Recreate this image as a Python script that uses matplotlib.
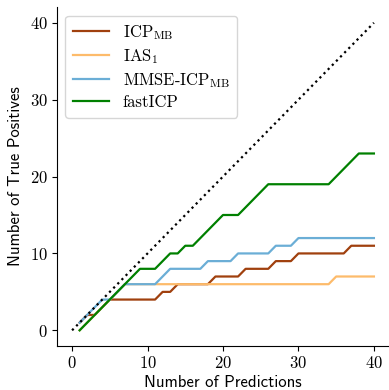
import matplotlib
matplotlib.use("Agg")
import matplotlib.pyplot as plt
import numpy as np

plt.rcParams['mathtext.fontset'] = 'cm'
plt.rcParams['axes.formatter.use_mathtext'] = True

x = list(range(1, 41))
icp_mb = [1, 2, 2, 3, 4, 4, 4, 4, 4, 4, 4, 5, 5, 6, 6, 6, 6, 6, 7, 7,
          7, 7, 8, 8, 8, 8, 9, 9, 9, 10, 10, 10, 10, 10, 10, 10, 11, 11, 11, 11]
ias1 = [0, 1, 2, 3, 4, 5, 6, 6, 6, 6, 6, 6, 6, 6, 6, 6, 6, 6, 6, 6,
        6, 6, 6, 6, 6, 6, 6, 6, 6, 6, 6, 6, 6, 6, 7, 7, 7, 7, 7, 7]
mmse_icp_mb = [1, 2, 3, 4, 4, 5, 6, 6, 6, 6, 6, 7, 8, 8, 8, 8, 8, 9, 9, 9,
               9, 10, 10, 10, 10, 10, 11, 11, 11, 12, 12, 12, 12, 12, 12, 12, 12, 12, 12, 12]
fasticp = [0, 1, 2, 3, 4, 5, 6, 7, 8, 8, 8, 9, 10, 10, 11, 11, 12, 13, 14, 15,
           15, 15, 16, 17, 18, 19, 19, 19, 19, 19, 19, 19, 19, 19, 20, 21, 22, 23, 23, 23]
diag = [0, 40]

labels = [r"ICP$_{\mathrm{MB}}$", r"IAS$_{1}$", r"MMSE-ICP$_{\mathrm{MB}}$", r"fastICP"]
colors = ['#a0400e', '#fdbb6b', '#6baed6', '#008000']

fig = plt.figure(figsize=(3.89, 3.90), dpi=100)
ax = fig.add_axes([0.1465, 0.1136, 0.8535, 0.8674])

for ys, lab, c in zip([icp_mb, ias1, mmse_icp_mb, fasticp], labels, colors):
    ax.plot(x, ys, color=c, lw=1.6, label=lab)
ax.plot(diag, diag, color='black', ls=':', lw=1.6)

ax.set_xlim(-2, 42)
ax.set_ylim(-2, 42)
ax.set_xticks([0, 10, 20, 30, 40])
ax.set_yticks([0, 10, 20, 30, 40])
for lbl in ax.get_xticklabels() + ax.get_yticklabels():
    lbl.set_fontfamily('cmr10')
    lbl.set_fontsize(12)
ax.tick_params(direction='out', length=3.5, width=0.8, pad=3)
ax.spines['top'].set_visible(False)
ax.spines['right'].set_visible(False)

ax.set_xlabel("Number of Predictions", family='cmss10', fontsize=12, labelpad=3)
ax.set_ylabel("Number of True Positives", family='cmss10', fontsize=12, labelpad=5)

leg = ax.legend(loc='upper left', prop={'family': 'cmr10', 'size': 12},
                frameon=True, fancybox=True, framealpha=0.8, edgecolor='#cccccc',
                borderpad=0.45, handlelength=2.2, labelspacing=0.3)

fig.savefig("out.png", dpi=100)
